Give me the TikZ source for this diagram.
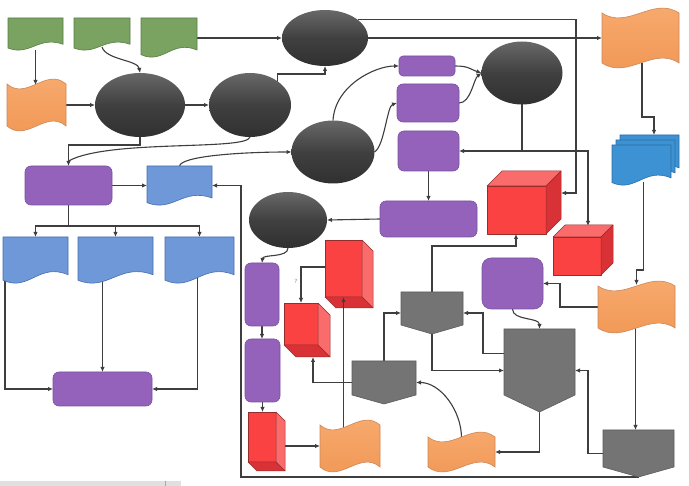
\documentclass[tikz,border=0pt]{standalone}
\usetikzlibrary{shapes.geometric,arrows.meta,calc}
\pgfdeclarelayer{bg}
\pgfsetlayers{bg,main}
\definecolor{linec}{RGB}{62,62,62}
\definecolor{grn}{RGB}{122,163,98}
\definecolor{grnD}{RGB}{88,125,72}
\definecolor{oraT}{RGB}{248,172,112}
\definecolor{oraB}{RGB}{240,150,84}
\definecolor{oraD}{RGB}{205,135,90}
\definecolor{purp}{RGB}{148,98,186}
\definecolor{purpD}{RGB}{122,82,160}
\definecolor{bdoc}{RGB}{110,152,216}
\definecolor{bdocD}{RGB}{72,110,175}
\definecolor{mdoc}{RGB}{60,146,210}
\definecolor{mdocD}{RGB}{45,110,170}
\definecolor{redF}{RGB}{250,66,66}
\definecolor{redL}{RGB}{250,108,108}
\definecolor{redD}{RGB}{216,50,54}
\definecolor{redE}{RGB}{150,45,45}
\definecolor{pentF}{RGB}{116,116,116}
\definecolor{pentD}{RGB}{92,92,92}
\definecolor{ellT}{RGB}{104,104,104}
\definecolor{ellM}{RGB}{64,64,64}
\definecolor{ellB}{RGB}{48,48,48}

\tikzset{
  conn/.style={draw=linec,line width=1.1pt},
  arr/.style={conn,-{Latex[length=5pt,width=4.5pt]}},
  anchorbox/.style={inner sep=0,outer sep=0,draw=none},
  ell/.style={ellipse,inner sep=0,outer sep=0,top color=ellT,bottom color=ellB,middle color=ellM},
  pbox/.style={rectangle,rounded corners=6pt,inner sep=0,outer sep=0,fill=purp,draw=purpD,line width=0.6pt},
  tapesty/.style={draw=oraD,line width=0.6pt,top color=oraT,bottom color=oraB},
  gdoc/.style={fill=grn,draw=grnD,line width=0.6pt},
  bluedoc/.style={fill=bdoc,draw=bdocD,line width=0.6pt},
  multidoc/.style={fill=mdoc,draw=mdocD,line width=0.6pt},
  pent/.style={fill=pentF,draw=pentD,line width=0.6pt},
  cubeedge/.style={draw=redE,line width=0.5pt,line join=round},
}

% document symbol: rectangle with a wavy lower edge
\newcommand\docdraw[5]{%
  \filldraw[#5] (#1,#2) -- (#3,#2) -- (#3,{#4-0.18*(#4-#2)})
    .. controls ({#1+0.55*(#3-#1)},{#4-0.45*(#4-#2)}) and ({#1+0.4*(#3-#1)},{#4+0.2*(#4-#2)})
    .. (#1,{#4-0.06*(#4-#2)}) -- cycle;}
\newcommand\docshape[6]{%
  \node[anchorbox,minimum width={#4-#2},minimum height={#5-#3}] (#1) at ({(#2+#4)/2},{(#3+#5)/2}) {};
  \docdraw{#2}{#3}{#4}{#5}{#6}}
% punched tape: parallel waves on top and bottom
\newcommand\tapeshape[5]{%
  \node[anchorbox,minimum width={#4-#2},minimum height={#5-#3}] (#1) at ({(#2+#4)/2},{(#3+#5)/2}) {};
  \path[tapesty] (#2,{#3+5})
    .. controls ({#2+(#4-#2)/3},{#3+22}) and ({#2+2*(#4-#2)/3},{#3-12}) .. (#4,{#3+5})
    -- (#4,{#5-5})
    .. controls ({#2+2*(#4-#2)/3},{#5-22}) and ({#2+(#4-#2)/3},{#5+12}) .. (#2,{#5-5})
    -- cycle;}
% off-page connector (box with a pointed lower edge)
\newcommand\offpage[6]{%
  \node[anchorbox,minimum width={#3-#2},minimum height={#6-#4}] (#1) at ({(#2+#3)/2},{(#4+#6)/2}) {};
  \filldraw[pent] (#2,#4) -- (#3,#4) -- (#3,#5) -- ({(#2+#3)/2},#6) -- (#2,#5) -- cycle;}
% box seen from above right
\newcommand\cubeup[6]{%
  \node[anchorbox,minimum width={#4-#2+#6},minimum height={#5-#3+#6}] (#1) at ({(#2+#4+#6)/2},{(#3+#5-#6)/2}) {};
  \filldraw[cubeedge,fill=redF] (#2,#3) rectangle (#4,#5);
  \filldraw[cubeedge,fill=redL] (#2,#3) -- ({#2+#6},{#3-#6}) -- ({#4+#6},{#3-#6}) -- (#4,#3) -- cycle;
  \filldraw[cubeedge,fill=redD] (#4,#3) -- ({#4+#6},{#3-#6}) -- ({#4+#6},{#5-#6}) -- (#4,#5) -- cycle;}
% box seen from below right
\newcommand\cubedown[6]{%
  \node[anchorbox,minimum width={#4-#2+#6},minimum height={#5-#3+#6}] (#1) at ({(#2+#4+#6)/2},{(#3+#5+#6)/2}) {};
  \filldraw[cubeedge,fill=redF] (#2,#3) rectangle (#4,#5);
  \filldraw[cubeedge,fill=redL] (#4,#3) -- ({#4+#6},{#3+#6}) -- ({#4+#6},{#5+#6}) -- (#4,#5) -- cycle;
  \filldraw[cubeedge,fill=redD] (#2,#5) -- (#4,#5) -- ({#4+#6},{#5+#6}) -- ({#2+#6},{#5+#6}) -- cycle;}

\begin{document}
\begin{tikzpicture}[x=1pt,y=-1pt]
\useasboundingbox (0,0) rectangle (689,486);

% ---- green documents
\docshape{g1}{8}{18}{63}{50}{gdoc}
\docshape{g2}{74}{18}{130}{50}{gdoc}
\docshape{g3}{141}{18}{197}{57}{gdoc}

% ---- punched tapes
\tapeshape{o1}{7}{79}{66}{131}
\tapeshape{o2}{602}{8}{679}{68}
\tapeshape{o3}{598}{281}{675}{333}
\tapeshape{o4}{320}{420}{380}{472}
\tapeshape{o5}{428}{432}{495}{472}

% ---- process ellipses
\node[ell,minimum width=86,minimum height=56] (e1) at (325,38) {};
\node[ell,minimum width=90,minimum height=64] (e2) at (140,105) {};
\node[ell,minimum width=82,minimum height=64] (e3) at (250,105) {};
\node[ell,minimum width=83,minimum height=63] (e4) at (333,152) {};
\node[ell,minimum width=81,minimum height=63] (e5) at (522,73) {};
\node[ell,minimum width=78,minimum height=56] (e6) at (288,220) {};

% ---- rounded process boxes
\node[pbox,minimum width=87,minimum height=39] (p1) at (68.5,185.5) {};
\node[pbox,minimum width=99,minimum height=34] (p2) at (102.5,389) {};
\node[pbox,rounded corners=4pt,minimum width=56,minimum height=20] (p3) at (427,66) {};
\node[pbox,minimum width=62,minimum height=38] (p4) at (428,103) {};
\node[pbox,minimum width=61,minimum height=40] (p5) at (428.5,151) {};
\node[pbox,minimum width=97,minimum height=36] (p6) at (428.5,219) {};
\node[pbox,minimum width=34,minimum height=63] (p7) at (262,294.5) {};
\node[pbox,minimum width=35,minimum height=63] (p8) at (262.5,370.5) {};
\node[pbox,rounded corners=9pt,minimum width=61,minimum height=51] (p9) at (512.5,283.5) {};

% ---- blue documents
\docshape{b0}{147}{166}{212}{205}{bluedoc}
\docshape{b1}{3}{237}{68}{283}{bluedoc}
\docshape{b2}{78}{237}{153}{283}{bluedoc}
\docshape{b3}{165}{237}{234}{283}{bluedoc}
\node[anchorbox,minimum width=67,minimum height=50] (m) at (645.5,160) {};
\docdraw{620}{135}{679}{175}{multidoc}
\docdraw{616}{140}{675}{180}{multidoc}
\docdraw{612}{145}{671}{185}{multidoc}

% ---- red boxes
\cubeup{r1}{487}{186}{546}{234}{15}
\cubeup{r2}{553}{237}{601}{275}{12}
\cubedown{r3}{325}{240}{362}{297}{11}
\cubedown{r4}{284}{303}{318}{345}{12}
\cubedown{r5}{248}{412}{276}{462}{9}

% ---- off-page connectors
\offpage{k1}{401}{463}{292}{325}{334}
\offpage{k2}{352}{416}{361}{395}{404}
\offpage{k3}{504}{575}{329}{395}{412}
\offpage{k4}{603}{674}{430}{467}{477}

\node[font=\fontsize{6}{6}\selectfont\sffamily,text=linec!70] (q) at (296,281) {?};

% ---- connectors (behind the shapes)
\begin{pgfonlayer}{bg}
\fill[white] (0,0) rectangle (689,486);
\fill[black!12] (0,481) rectangle (181,486);
\draw[black!35,line width=0.5pt] (165,481) -- (165,486);

\draw[arr] (g1.south) -- ($(g1.south |- o1.north)+(0,6)$);
\draw[arr] ($(g2.south)+(0,-3)$) .. controls +(4,13) and +(-2,-13) .. (e2.north);
\draw[arr] (g3.east |- e1.west) -- (e1.west);
\draw[arr] (o1.east) -- (e2.west);
\draw[arr] (e2.east) -- (e3.west);
\draw[arr] (e3.40) |- ($(e1.south)+(0,8)$) -- (e1.south);
\draw[arr] (e2.south) |- ($(p1.north)+(0,-21)$) -- (p1.north);
\draw[conn] (e3.south) .. controls +(-3,14) and +(40,-22) .. ($(p1.north)+(0,-5)$);
\draw[arr] (p1.east) -- (b0.west |- p1.east);
\draw[arr] (b0.north) .. controls +(2,-10) and +(-50,0) .. (e4.west);
\draw[arr] (p1.south) -- ++(0,21) -| (b1.north);
\draw[arr] ($(p1.south)+(0,21)$) -| (b2.north);
\draw[arr] ($(p1.south)+(0,21)$) -| (b3.north);
\draw[arr] ($(b1.south west)+(2,-4)$) |- (p2.west);
\draw[arr] ($(p2.north |- b2.south)+(0,-5)$) -- (p2.north);
\draw[arr] ($(b3.south)+(-2,-5)$) |- (p2.east);

\draw[arr] (e4.north) .. controls +(2,-35) and +(-24,0) .. (p3.west);
\draw[arr] (e4.east) .. controls +(10,-6) and +(-10,3) .. (p4.west);
\draw[arr] (p3.east) .. controls +(14,0) and +(-12,-4) .. (e5.west);
\draw[arr] (p4.east) .. controls +(12,0) and +(-8,6) .. (e5.west);
\draw[arr] (e1.29) -| (576,193) -- (r1.east |- 576,193);
\draw[arr] (e1.east) -- (o2.west);
\draw[arr] (e5.south) |- (p5.east);
\draw[arr] (e5.south |- p5.east) -| ($(r2.north)+(5,1)$);
\draw[arr] (p5.south) -- (p6.north);
\draw[arr] (p6.west) -- (e6.east);
\draw[arr] (e6.south) .. controls +(0,10) and +(1,-9) .. (p7.north);
\draw[arr] (p7.south) -- (p7.south |- p8.north);
\draw[arr] (p8.south) -- (p8.south |- r5.north);
\draw[arr] (r5.east |- o4.west) -- (o4.west);
\draw[arr] ($(r3.west)+(0,-7)$) -| ($(r4.north west)+(17,0)$);
\draw[conn] ($(o4.north)+(-6.5,10)$) -- ($(r3.south west)+(18.5,0)$);
\draw[arr] (k2.west) -| ($(r4.south west)+(29,0)$);
\draw[arr] (k2.north) |- (k1.west);
\draw[arr] ($(k3.west)+(0,-17)$) -| ($(k1.east)+(20,0)$) -- (k1.east);
\draw[arr] (k1.south) |- (k3.west);
\draw[arr] (k1.north) |- ($(r1.south)+(-8,12)$) -- ($(r1.south)+(-8,0)$);
\draw[arr] (p9.south) .. controls +(0,12) and +(0,-12) .. (k3.north);
\draw[arr] (o3.west) -| ($(p9.east)+(17,0)$) -- (p9.east);
\draw[arr] ($(o3.south)+(-1,-5)$) -- ($(o3.south |- k4.north)+(-1,0)$);
\draw[arr] ($(m.south)+(-2,-3)$) |- ($(o3.north)+(0,-11)$) -- ($(o3.north)+(0,4)$);
\draw[arr] ($(o2.south)+(1.5,-5)$) |- ($(m.north)+(8.5,-18)$) -- ($(m.north)+(8.5,0)$);
\draw[arr] (k4.west) -| ($(k3.east)+(13,0)$) -- (k3.east);
\draw[arr] (k3.south) |- (o5.east);
\draw[arr] ($(o5.north)+(0,6)$) .. controls +(0,-28) and +(24,0) .. (k2.east);
\draw[arr] (k4.south) -| ($(b0.east)+(29,0)$) -- (b0.east);
\end{pgfonlayer}

% arrow tip over the lower face of the tall box
\draw[arr] ($(r3.south west)+(18.5,0)$) -- ($(r3.south west)+(18.5,-11)$);
\end{tikzpicture}
\end{document}
